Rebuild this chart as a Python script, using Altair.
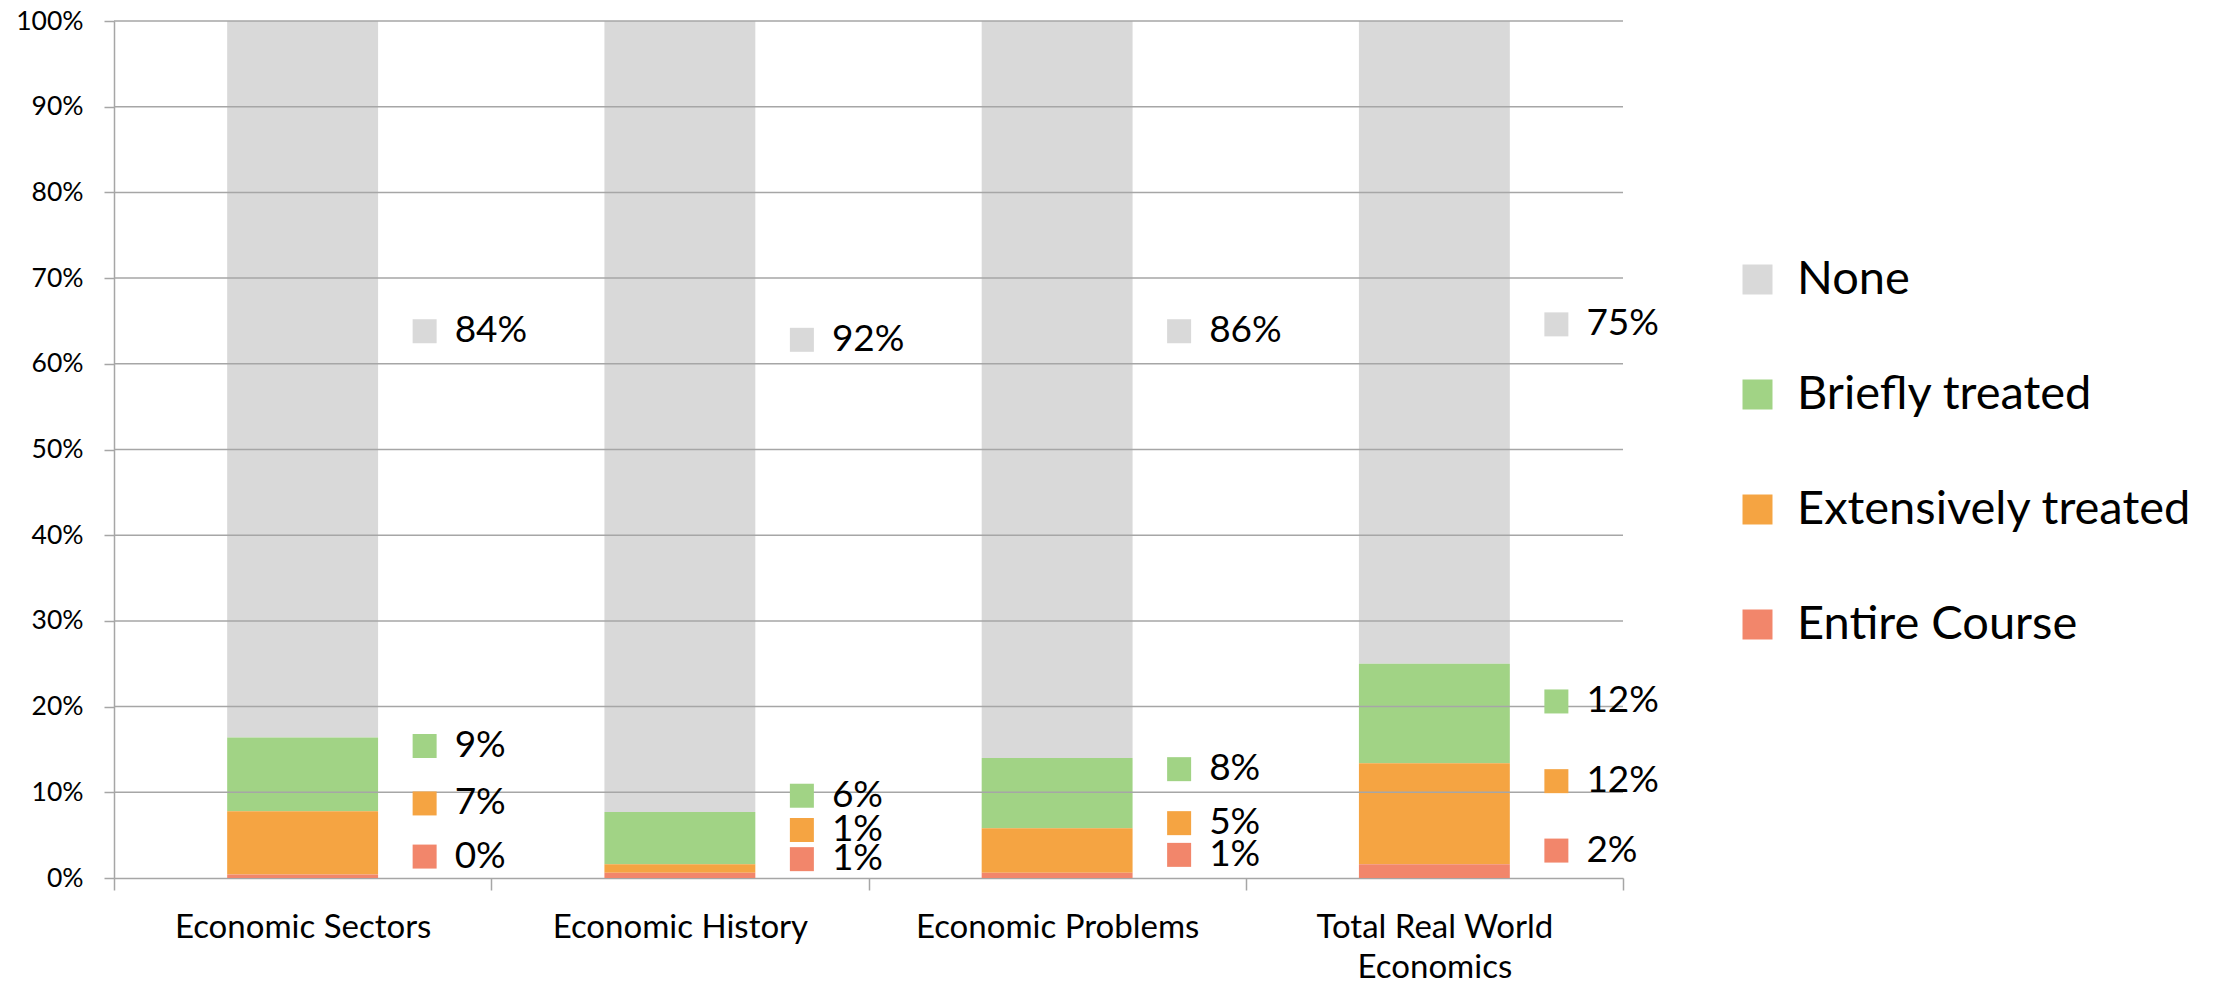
import altair as alt
import pandas as pd

# ---- data ----
categories = ["Economic Sectors", "Economic History", "Economic Problems", "Total Real World Economics"]
series = ["None", "Briefly treated", "Extensively treated", "Entire Course"]
none_pct = [83.6, 92.3, 86.0, 75.0]
briefly_pct = [8.6, 6.1, 8.2, 11.6]
extensively_pct = [7.4, 1.0, 5.2, 11.8]
entire_pct = [0.4, 0.6, 0.6, 1.6]
y_ticks = [0, 10, 20, 30, 40, 50, 60, 70, 80, 90, 100]

# ---- styling / layout ----
colors = ["#D9D9D9", "#A1D385", "#F5A442", "#F2866B"]
stack_rank = [3, 2, 1, 0]  # Entire Course at the bottom, None on top
label_y_none = [63.8, 62.8, 63.8, 64.6]
label_y_briefly = [15.4, 9.6, 12.7, 20.6]
label_y_ext = [8.7, 5.6, 6.4, 11.3]
label_y_entire = [2.5, 2.2, 2.7, 3.2]

W, H = 1509, 857
FONT = "Lato"
GRID = "#A6A6A6"

values_by_series = [none_pct, briefly_pct, extensively_pct, entire_pct]
label_y_by_series = [label_y_none, label_y_briefly, label_y_ext, label_y_entire]

rows = []
for si, s in enumerate(series):
    for ci, c in enumerate(categories):
        rows.append({
            "cat": c,
            "series": s,
            "value": values_by_series[si][ci],
            "rank": stack_rank[si],
            "label_y": label_y_by_series[si][ci],
            "hex": colors[si],
        })
df = pd.DataFrame(rows)
grid_df = pd.DataFrame({"tick": y_ticks[1:]})

x_scale = alt.Scale(domain=categories, paddingInner=0, paddingOuter=0)
x_axis = alt.Axis(
    title=None,
    labelAngle=0,
    tickBand="extent",
    tickSize=12,
    tickColor=GRID,
    tickWidth=1.5,
    domainColor=GRID,
    domainWidth=1.5,
    labelFont=FONT,
    labelFontSize=33,
    labelColor="#000000",
    labelPadding=21,
    labelLineHeight=40,
    labelLimit=500,
    labelExpr="datum.label == 'Total Real World Economics' ? ['Total Real World', 'Economics'] : datum.label",
)

y_scale = alt.Scale(domain=[0, 100], nice=False, zero=True)
y_axis = alt.Axis(
    title=None,
    values=y_ticks,
    labelExpr="datum.value + '%'",
    grid=False,
    tickSize=10,
    tickColor=GRID,
    tickWidth=1.5,
    domainColor=GRID,
    domainWidth=1.5,
    labelFont=FONT,
    labelFontSize=26.5,
    labelColor="#000000",
    labelPadding=21,
)

bars = alt.Chart(df).mark_bar(width=alt.RelativeBandSize(0.4)).encode(
    x=alt.X("cat:N", sort=categories, scale=x_scale, axis=x_axis),
    y=alt.Y("value:Q", stack="zero", scale=y_scale, axis=y_axis),
    color=alt.Color(
        "series:N",
        scale=alt.Scale(domain=series, range=colors),
        legend=alt.Legend(
            title=None,
            orient="none",
            legendX=1620,
            legendY=235,
            symbolType="square",
            symbolSize=900,
            symbolStrokeWidth=0,
            symbolOpacity=1,
            labelFont=FONT,
            labelFontSize=47,
            labelColor="#000000",
            labelOffset=16,
            rowPadding=67,
            padding=0,
            labelLimit=600,
        ),
    ),
    order=alt.Order("rank:Q", sort="ascending"),
)

grid = alt.Chart(grid_df).mark_rule(color=GRID, strokeWidth=1.5).encode(
    y=alt.Y("tick:Q", scale=y_scale, axis=y_axis),
    x=alt.value(0),
    x2=alt.value(W),
)

markers = alt.Chart(df).mark_point(
    shape="square", filled=True, size=576, opacity=1, xOffset=122
).encode(
    x=alt.X("cat:N", sort=categories, scale=x_scale, axis=x_axis),
    y=alt.Y("label_y:Q", scale=y_scale, axis=y_axis),
    color=alt.Color("hex:N", scale=None),
)

labels = alt.Chart(df).transform_calculate(
    txt="format(datum.value, '.0f') + '%'"
).mark_text(
    align="left", baseline="middle", dx=152, font=FONT, fontSize=37, color="#000000"
).encode(
    x=alt.X("cat:N", sort=categories, scale=x_scale, axis=x_axis),
    y=alt.Y("label_y:Q", scale=y_scale, axis=y_axis),
    text="txt:N",
)

chart = alt.layer(bars, grid, markers, labels).properties(
    width=W,
    height=H,
    padding={"left": 106, "top": 13, "right": 588, "bottom": 103},
    autosize=alt.AutoSizeParams(type="none"),
    background="white",
).configure_view(stroke=None)

chart.save("out.html", embed_options={"renderer": "svg", "actions": False})
